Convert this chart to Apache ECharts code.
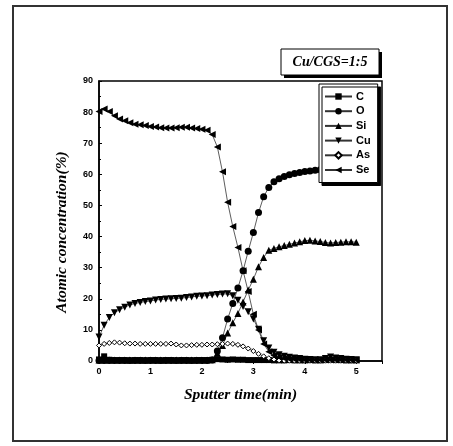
<!DOCTYPE html>
<html>
<head>
<meta charset="utf-8">
<script src="https://cdn.jsdelivr.net/npm/echarts@6/dist/echarts.min.js"></script>
<style>
  html, body { margin: 0; padding: 0; background: #fff; }
  #main { width: 453px; height: 446px; }
</style>
</head>
<body>
<div id="main"></div>
<script>
// sputter time (min)
var times = [0.0, 0.1, 0.2, 0.3, 0.4, 0.5, 0.6, 0.7, 0.8, 0.9,
  1.0, 1.1, 1.2, 1.3, 1.4, 1.5, 1.6, 1.7, 1.8, 1.9,
  2.0, 2.1, 2.2, 2.3, 2.4, 2.5, 2.6, 2.7, 2.8, 2.9,
  3.0, 3.1, 3.2, 3.3, 3.4, 3.5, 3.6, 3.7, 3.8, 3.9,
  4.0, 4.1, 4.2, 4.3, 4.4, 4.5, 4.6, 4.7, 4.8, 4.9, 5.0]

var cData = [0.5, 1.5, 0.4, 0.3, 0.3, 0.3, 0.2, 0.3, 0.3, 0.2,
  0.3, 0.3, 0.2, 0.3, 0.3, 0.2, 0.3, 0.3, 0.2, 0.3,
  0.3, 0.3, 0.4, 0.6, 0.5, 0.4, 0.5, 0.4, 0.4, 0.3,
  0.3, 0.3, 0.3, 0.3, 0.2, 0.2, 0.2, 0.3, 0.2, 0.2,
  0.2, 0.3, 0.2, 0.2, 0.3, 0.4, 0.3, 0.3, 0.2, 0.2, 0.2]

var oData = [0.2, 0.2, 0.2, 0.2, 0.2, 0.2, 0.2, 0.2, 0.2, 0.2,
  0.2, 0.2, 0.2, 0.2, 0.2, 0.2, 0.2, 0.2, 0.2, 0.2,
  0.2, 0.2, 0.3, 3.2, 7.5, 13.5, 18.5, 23.5, 29.0, 35.3,
  41.3, 47.7, 52.8, 55.8, 57.6, 58.6, 59.3, 59.9, 60.3, 60.6,
  60.9, 61.1, 61.3, 61.5, 61.6, 61.7, 61.8, 61.9, 62.0, 62.0, 62.1]

var siData = [0.3, 0.3, 0.3, 0.3, 0.3, 0.3, 0.3, 0.3, 0.3, 0.3,
  0.3, 0.3, 0.3, 0.3, 0.3, 0.3, 0.3, 0.3, 0.3, 0.3,
  0.3, 0.3, 0.4, 2.5, 5.0, 9.0, 12.3, 15.3, 19.0, 22.8,
  26.3, 30.3, 33.3, 35.6, 36.2, 36.7, 37.1, 37.5, 37.9, 38.3,
  38.7, 38.8, 38.6, 38.4, 38.1, 37.9, 38.1, 38.2, 38.3, 38.3, 38.2]

var cuData = [7.7, 11.5, 14.0, 15.5, 16.5, 17.3, 18.0, 18.5, 18.8, 19.1,
  19.3, 19.6, 19.8, 19.9, 20.0, 20.1, 20.2, 20.4, 20.6, 20.8,
  20.9, 21.0, 21.2, 21.4, 21.5, 21.6, 21.0, 19.5, 17.5, 15.8,
  13.5, 10.2, 6.5, 4.2, 2.8, 2.0, 1.5, 1.2, 1.0, 0.8,
  0.6, 0.5, 0.4, 0.4, 0.8, 1.3, 1.0, 0.8, 0.6, 0.5, 0.4]

var asData = [5.0, 5.5, 5.8, 6.0, 5.9, 5.7, 5.6, 5.6, 5.5, 5.5,
  5.5, 5.5, 5.5, 5.5, 5.6, 5.3, 5.0, 5.0, 5.1, 5.2,
  5.2, 5.3, 5.3, 5.4, 5.5, 5.6, 5.5, 5.2, 4.7, 4.0,
  3.2, 2.3, 1.5, 0.9, 0.5, 0.2, 0.1, 0.1, 0.1, 0.1,
  0.1, 0.1, 0.1, 0.1, 0.1, 0.1, 0.1, 0.1, 0.1, 0.1, 0.1]

var seData = [80.2, 81.0, 80.2, 78.8, 77.8, 77.2, 76.6, 76.1, 75.9, 75.7,
  75.4, 75.2, 75.0, 74.9, 74.9, 75.0, 75.1, 75.1, 74.9, 74.7,
  74.5, 74.2, 72.8, 68.8, 60.8, 51.0, 43.2, 36.5, 29.0, 22.3,
  15.0, 10.0, 5.5, 3.0, 1.8, 1.2, 0.8, 0.6, 0.5, 0.4,
  0.3, 0.3, 0.3, 0.3, 0.3, 0.3, 0.3, 0.3, 0.3, 0.3, 0.3]

var seriesNames = ['C', 'O', 'Si', 'Cu', 'As', 'Se']
var yTicks = [0, 10, 20, 30, 40, 50, 60, 70, 80, 90]

function pairs(values) {
  return times.map(function (t, i) { return [t, values[i]] })
}

// marker shape per element
function makeSeries(name, values, symbol, size, rotate, hollow) {
  return {
    name: name,
    type: 'line',
    data: pairs(values),
    symbol: symbol,
    symbolSize: size,
    symbolRotate: rotate,
    showAllSymbol: true,
    lineStyle: { color: '#333', width: 0.8 },
    itemStyle: hollow
      ? { color: '#fff', borderColor: '#000', borderWidth: 1 }
      : { color: '#000', borderColor: '#000', borderWidth: 0 },
    emphasis: { disabled: true },
    animation: false
  }
}

var chart = echarts.init(document.getElementById('main'), null, { renderer: 'canvas' })

chart.setOption({
  backgroundColor: '#fff',
  animation: false,
  grid: {
    left: 99, top: 81, width: 283, height: 280,
    show: true, borderColor: '#000', borderWidth: 1.5, backgroundColor: 'transparent'
  },
  legend: {
    data: seriesNames,
    orient: 'vertical',
    left: 319,
    top: 84,
    padding: [7, 7, 7, 5],
    itemWidth: 27,
    itemHeight: 8,
    itemGap: 3.7,
    backgroundColor: '#fff',
    borderColor: '#000',
    borderWidth: 1,
    shadowColor: '#000',
    shadowBlur: 0,
    shadowOffsetX: 3,
    shadowOffsetY: 3,
    textStyle: { fontFamily: 'Liberation Sans', fontWeight: 'bold', fontSize: 11, color: '#000', padding: [0, 0, 0, -1] }
  },
  xAxis: {
    type: 'value',
    min: 0,
    max: 5.5,
    interval: 1,
    name: 'Sputter time(min)',
    nameLocation: 'middle',
    nameGap: 26,
    nameTextStyle: { fontFamily: 'Liberation Serif', fontStyle: 'italic', fontWeight: 'bold', fontSize: 15.5, color: '#000' },
    axisLine: { lineStyle: { color: '#000', width: 1.5 } },
    axisTick: { inside: false, length: 3, lineStyle: { color: '#000', width: 1 } },
    minorTick: { show: true, splitNumber: 2, length: 2, lineStyle: { color: '#000' } },
    axisLabel: {
      fontFamily: 'Liberation Sans', fontWeight: 'bold', fontSize: 9, color: '#000', margin: 6,
      formatter: function (v) { return v % 1 === 0 ? String(v) : '' }
    },
    splitLine: { show: false }
  },
  yAxis: {
    type: 'value',
    min: yTicks[0],
    max: yTicks[yTicks.length - 1],
    interval: 10,
    name: 'Atomic concentration(%)',
    nameLocation: 'middle',
    nameGap: 29,
    nameTextStyle: { fontFamily: 'Liberation Serif', fontStyle: 'italic', fontWeight: 'bold', fontSize: 15.5, color: '#000', padding: [0, 22, 0, 0] },
    axisLine: { lineStyle: { color: '#000', width: 1.5 } },
    axisTick: { inside: true, length: 3, lineStyle: { color: '#000', width: 1 } },
    minorTick: { show: true, splitNumber: 2, length: 2, lineStyle: { color: '#000' } },
    axisLabel: { fontFamily: 'Liberation Sans', fontWeight: 'bold', fontSize: 9, color: '#000', margin: 6 },
    splitLine: { show: false }
  },
  graphic: [
    // outer frame
    { type: 'rect', shape: { x: 13, y: 6, width: 434, height: 435 },
      style: { fill: 'none', stroke: '#333', lineWidth: 2 }, silent: true },
    // sample label box
    { type: 'rect', shape: { x: 284, y: 52, width: 98, height: 26 },
      style: { fill: '#000' }, silent: true },
    { type: 'rect', shape: { x: 281, y: 49, width: 98, height: 26 },
      style: { fill: '#fff', stroke: '#000', lineWidth: 1 }, silent: true },
    { type: 'text', x: 330, y: 62,
      style: { text: 'Cu/CGS=1:5', fill: '#000', align: 'center', verticalAlign: 'middle',
        font: 'italic bold 14px "Liberation Serif"' }, silent: true }
  ],
  series: [
    makeSeries('C', cData, 'rect', 6, 0, false),
    makeSeries('O', oData, 'circle', 7, 0, false),
    makeSeries('Si', siData, 'triangle', 7, 0, false),
    makeSeries('Cu', cuData, 'triangle', 7, 180, false),
    makeSeries('As', asData, 'diamond', 5, 0, true),
    makeSeries('Se', seData, 'triangle', 7, 90, false)
  ]
})
</script>
</body>
</html>
